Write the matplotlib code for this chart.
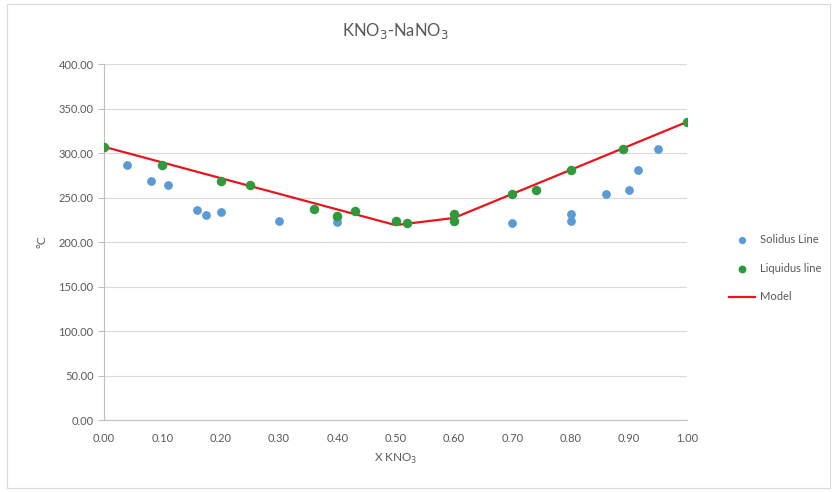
import matplotlib
matplotlib.use("Agg")
import matplotlib.pyplot as plt
from matplotlib.patches import Rectangle

plt.rcParams['font.family'] = ['Lato', 'DejaVu Sans']

# Solidus points
solidus_x = [0.04, 0.08, 0.11, 0.16, 0.175, 0.20, 0.30, 0.40, 0.40, 0.70, 0.80, 0.80, 0.86, 0.90, 0.915, 0.95]
solidus_y = [287, 268, 264, 236, 230, 234, 224, 228, 223, 221, 232, 224, 254, 258, 281, 305]

# Liquidus points
liquidus_x = [0.00, 0.10, 0.20, 0.25, 0.36, 0.40, 0.43, 0.50, 0.52, 0.60, 0.60, 0.70, 0.74, 0.80, 0.89, 1.00]
liquidus_y = [307, 287, 268, 264, 237, 229, 235, 224, 221, 232, 224, 254, 258, 281, 305, 335]

# Model line
model_x = [0.0, 0.5, 0.6, 1.0]
model_y = [307, 219, 227, 335]

xticks = [0.0, 0.1, 0.2, 0.3, 0.4, 0.5, 0.6, 0.7, 0.8, 0.9, 1.0]
yticks = [0, 50, 100, 150, 200, 250, 300, 350, 400]

fig = plt.figure(figsize=(8.39, 4.92), dpi=100)
fig.patches.append(Rectangle((7/839, 4/492), 823/839, 484/492, transform=fig.transFigure,
                             fill=False, edgecolor='#d9d9d9', lw=0.8))
ax = fig.add_axes([0.124, 0.1463, 0.695, 0.7236])

ax.scatter(solidus_x, solidus_y, s=28, color='#5b9bd5', label='Solidus Line', zorder=3)
ax.scatter(liquidus_x, liquidus_y, s=34, color='#2f9a3c', label='Liquidus line', zorder=4)
ax.plot(model_x, model_y, color='#e8141e', lw=1.6, label='Model', zorder=3)

ax.set_xlim(0, 1)
ax.set_ylim(0, 400)
ax.set_xticks(xticks)
ax.set_xticklabels([f'{v:.2f}' for v in xticks])
ax.set_yticks(yticks)
ax.set_yticklabels([f'{v:.2f}' for v in yticks])
ax.grid(axis='y', color='#d9d9d9', lw=0.8)
ax.set_axisbelow(True)
for s in ['top', 'right']:
    ax.spines[s].set_visible(False)
for s in ['left', 'bottom']:
    ax.spines[s].set_color('#bfbfbf')
ax.tick_params(axis='both', colors='#bfbfbf', labelcolor='#595959', labelsize=8, length=4)
ax.tick_params(axis='x', length=0, pad=9)

ax.set_title('KNO$_3$-NaNO$_3$', fontsize=12, color='#595959', pad=20)
ax.set_xlabel('X KNO$_3$', fontsize=8.5, color='#595959', labelpad=6)
ax.set_ylabel('°C', fontsize=8.5, color='#595959', labelpad=8)

leg = ax.legend(loc='center left', bbox_to_anchor=(0.857, 0.455),
                bbox_transform=fig.transFigure, frameon=False, markerscale=0.8,
                fontsize=8, labelcolor='#595959', handlelength=2.3, handletextpad=0.5,
                labelspacing=1.6)

plt.savefig('out.png', dpi=100)
